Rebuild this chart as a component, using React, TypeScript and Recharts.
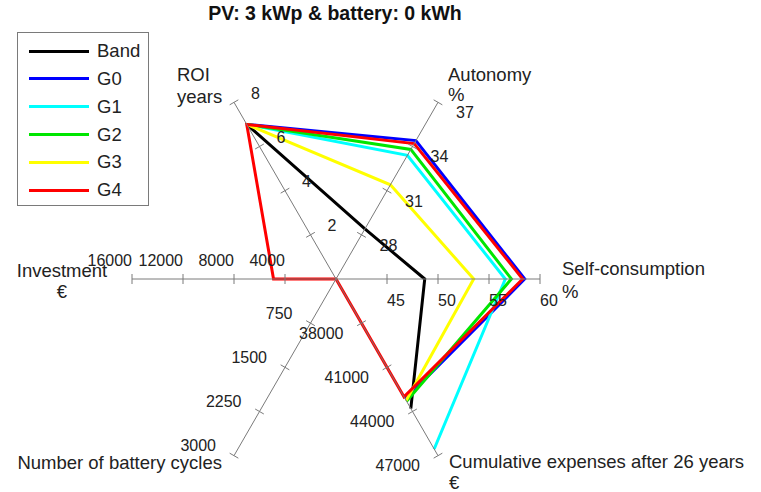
import React from 'react';
import { RadarChart, Radar, PolarAngleAxis, PolarRadiusAxis } from 'recharts';

// axes, counter-clockwise from the right
const axisNames = ['Self-consumption', 'Autonomy', 'ROI', 'Investment', 'Number of battery cycles', 'Cumulative expenses after 26 years'];
const axisUnits = ['%', '%', 'years', '€', '', '€'];
const axisMin = [40, 25, 0, 0, 0, 35000];
const axisMax = [60, 37, 8, 16000, 3000, 47000];

const selfTicks = ['45', '50', '55', '60'];
const autonomyTicks = ['28', '31', '34', '37'];
const roiTicks = ['2', '4', '6', '8'];
const investTicks = ['4000', '8000', '12000', '16000'];
const cycleTicks = ['750', '1500', '2250', '3000'];
const expenseTicks = ['38000', '41000', '44000', '47000'];
const tickLabels = [selfTicks, autonomyTicks, roiTicks, investTicks, cycleTicks, expenseTicks];

// null = no battery values, the line stays open there
const band = [48.7, 28.4, 7.0, null, null, 43800];
const g0 = [58.5, 34.4, 7.0, null, null, 43150];
const g1 = [56.6, 33.4, 7.0, null, null, 46550];
const g2 = [57.2, 33.8, 7.0, null, null, 43300];
const g3 = [53.5, 31.4, 7.0, null, null, 43250];
const g4 = [58.3, 34.2, 7.0, 4900, 0, 43000];

const series = [
  { name: 'Band', values: band, color: '#000000' },
  { name: 'G0', values: g0, color: '#0000ff' },
  { name: 'G1', values: g1, color: '#00ffff' },
  { name: 'G2', values: g2, color: '#00e600' },
  { name: 'G3', values: g3, color: '#ffff00' },
  { name: 'G4', values: g4, color: '#ff0000' },
];

const CX = 336;
const CY = 279;
const R = 204;
const FONT = '"Liberation Sans", Arial, sans-serif';

const chartData = axisNames.map((axis, i) => {
  const row: any = { axis };
  series.forEach(s => {
    const v = s.values[i];
    row[s.name] = v == null ? null : (v - axisMin[i]) / (axisMax[i] - axisMin[i]);
  });
  return row;
});

// where the scale numbers sit next to their tick
const tickPlace = [
  { anchor: 'start', dx: 0, dy: 21 },
  { anchor: 'start', dx: 18, dy: 10.5 },
  { anchor: 'start', dx: 17, dy: -9 },
  { anchor: 'end', dx: 0, dy: -19 },
  { anchor: 'end', dx: -18, dy: -10 },
  { anchor: 'end', dx: -18, dy: 10 },
];

// axis titles relative to the axis end
const namePlace = [
  { anchor: 'start', dx: 22, dy: [-11, 12] },
  { anchor: 'start', dx: 10, dy: [-28, -8] },
  { anchor: 'start', dx: -57, dy: [-28, -6] },
  { anchor: 'middle', dx: -70, dy: [-9, 12] },
  { anchor: 'end', dx: -12, dy: [7, 0] },
  { anchor: 'start', dx: 11, dy: [6, 27] },
];

// one spoke: line, tick marks, scale numbers and title
const Spoke = (props: any) => {
  const i = props.index;
  const a = (i * 60 * Math.PI) / 180;
  const ux = Math.cos(a);
  const uy = -Math.sin(a);
  const px = Math.sin(a) * 5;
  const py = Math.cos(a) * 5;
  const ex = CX + R * ux;
  const ey = CY + R * uy;
  const tp = tickPlace[i];
  const np = namePlace[i];
  const lines = axisUnits[i] ? [axisNames[i], axisUnits[i]] : [axisNames[i]];
  return (
    <g>
      <line x1={CX} y1={CY} x2={ex} y2={ey} stroke="#7a7a7a" strokeWidth={1} />
      {tickLabels[i].map((lab, k) => {
        const x = CX + (R * (k + 1)) / 4 * ux;
        const y = CY + (R * (k + 1)) / 4 * uy;
        return (
          <g key={k}>
            <line x1={x - px} y1={y - py} x2={x + px} y2={y + py} stroke="#7a7a7a" strokeWidth={1} />
            <text
              x={x + tp.dx}
              y={y + tp.dy}
              textAnchor={tp.anchor as any}
              dominantBaseline="central"
              fontSize={16}
              fontFamily={FONT}
              fill="#222"
            >
              {lab}
            </text>
          </g>
        );
      })}
      {lines.map((t, j) => (
        <text
          key={j}
          x={ex + np.dx}
          y={ey + np.dy[j]}
          textAnchor={np.anchor as any}
          dominantBaseline="central"
          fontSize={18.5}
          fontFamily={FONT}
          fill="#222"
        >
          {t}
        </text>
      ))}
    </g>
  );
};

// polygon that stays open where a value is missing
const makeShape = (key: string, color: string) => (props: any) => {
  const pts: any[] = props.points || [];
  const n = pts.length;
  const ok = (p: any) => p && p.payload && p.payload[key] != null && isFinite(p.x) && isFinite(p.y);
  let d = '';
  if (pts.every(ok)) {
    d = pts.map((p, j) => `${j === 0 ? 'M' : 'L'}${p.x},${p.y}`).join('') + 'Z';
  } else {
    const firstBad = pts.findIndex(p => !ok(p));
    let pen = false;
    for (let k = 1; k <= n; k++) {
      const p = pts[(firstBad + k) % n];
      if (ok(p)) {
        d += `${pen ? 'L' : 'M'}${p.x},${p.y}`;
        pen = true;
      } else {
        pen = false;
      }
    }
  }
  return <path d={d} stroke={color} strokeWidth={3} fill="none" strokeLinejoin="miter" />;
};

export default function App() {
  return (
    <div style={{ position: 'absolute', left: 0, top: 0, width: 761, height: 492, background: '#fff' }}>
      <div
        style={{
          position: 'absolute',
          left: 0,
          top: 2,
          width: 670,
          textAlign: 'center',
          fontFamily: FONT,
          fontWeight: 'bold',
          fontSize: 19.5,
          lineHeight: '22px',
          color: '#111',
        }}
      >
        PV: 3 kWp &amp; battery: 0 kWh
      </div>

      <RadarChart
        width={761}
        height={492}
        data={chartData}
        cx={CX}
        cy={CY}
        outerRadius={R}
        startAngle={-60}
        endAngle={300}
        margin={{ top: 0, right: 0, bottom: 0, left: 0 }}
      >
        <PolarAngleAxis dataKey="axis" tick={Spoke} axisLine={false} tickLine={false} />
        <PolarRadiusAxis type="number" domain={[0, 1]} tick={false} axisLine={false} />
        {series.map(s => (
          <Radar
            key={s.name}
            dataKey={s.name}
            stroke={s.color}
            strokeWidth={3}
            fill="none"
            fillOpacity={0}
            dot={false}
            shape={makeShape(s.name, s.color)}
            isAnimationActive={false}
          />
        ))}
      </RadarChart>

      <div
        style={{
          position: 'absolute',
          left: 17,
          top: 32,
          width: 130,
          height: 172,
          border: '1.5px solid #7a7a7a',
          background: '#fff',
          fontFamily: FONT,
          fontSize: 18.5,
          color: '#222',
        }}
      >
        {series.map((s, i) => (
          <div key={s.name} style={{ position: 'absolute', left: 0, top: 18 + i * 27.85 - 12, height: 24, width: 130 }}>
            <div style={{ position: 'absolute', left: 11, top: 10.5, width: 60, height: 3, background: s.color }} />
            <div style={{ position: 'absolute', left: 79, top: 0, lineHeight: '24px' }}>{s.name}</div>
          </div>
        ))}
      </div>
    </div>
  );
}
